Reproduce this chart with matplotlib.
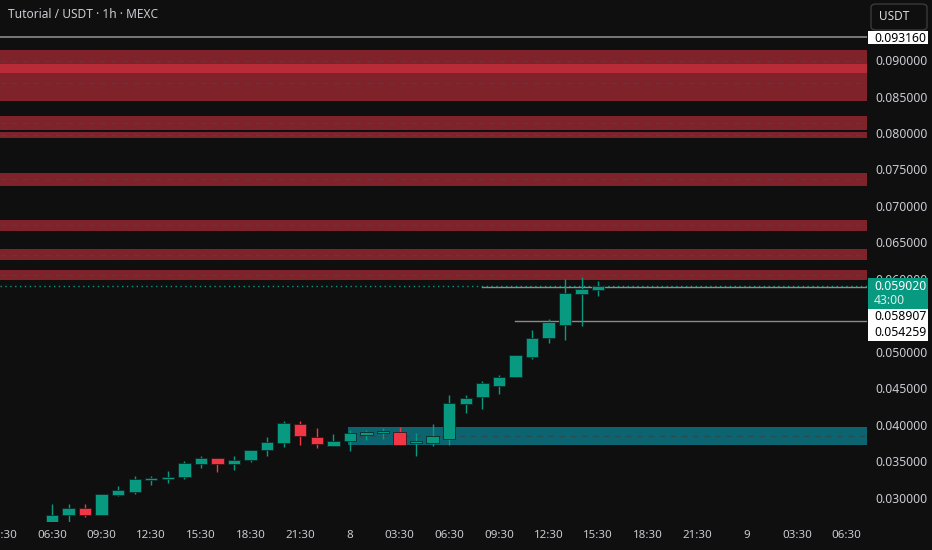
import matplotlib.pyplot as plt
from matplotlib.patches import Rectangle, FancyBboxPatch

plt.rcParams['font.family'] = ['Noto Sans', 'DejaVu Sans']

# ---- data ----
# hourly candles, first one at 06:30 on day 7
opens = [0.02671, 0.02767, 0.02863, 0.02767, 0.03041, 0.03082, 0.03247, 0.03260, 0.03288, 0.03466,
         0.03548, 0.03466, 0.03521, 0.03658, 0.03753, 0.04014, 0.03836, 0.03712, 0.03781, 0.03863,
         0.03890, 0.03904, 0.03753, 0.03753, 0.03808, 0.04288, 0.04384, 0.04534, 0.04658, 0.04932,
         0.05192, 0.05370, 0.05795, 0.05849]
highs = [0.02918, 0.02918, 0.02918, 0.03055, 0.03164, 0.03301, 0.03301, 0.03370, 0.03507, 0.03575,
         0.03548, 0.03575, 0.03658, 0.03836, 0.04055, 0.04055, 0.03959, 0.03877, 0.03932, 0.03932,
         0.03959, 0.03973, 0.03890, 0.04014, 0.04411, 0.04411, 0.04603, 0.04685, 0.04959, 0.05301,
         0.05452, 0.06000, 0.06027, 0.05973]
lows = [0.02668, 0.02671, 0.02740, 0.02767, 0.03027, 0.03055, 0.03178, 0.03205, 0.03260, 0.03411,
        0.03356, 0.03384, 0.03493, 0.03575, 0.03699, 0.03726, 0.03685, 0.03712, 0.03644, 0.03795,
        0.03808, 0.03726, 0.03575, 0.03712, 0.03726, 0.04164, 0.04219, 0.04425, 0.04658, 0.04904,
        0.05123, 0.05164, 0.05356, 0.05767]
closes = [0.02767, 0.02863, 0.02767, 0.03055, 0.03110, 0.03260, 0.03274, 0.03288, 0.03479, 0.03548,
          0.03466, 0.03521, 0.03658, 0.03767, 0.04027, 0.03849, 0.03740, 0.03781, 0.03890, 0.03904,
          0.03918, 0.03726, 0.03781, 0.03849, 0.04301, 0.04370, 0.04575, 0.04658, 0.04959, 0.05192,
          0.05411, 0.05808, 0.05863, 0.05902]

# time axis labels (hour offset from first candle)
tick_hours = [-3, 0, 3, 6, 9, 12, 15, 18, 21, 24, 27, 30, 33, 36, 39, 42, 45, 48]
tick_labels = ['03:30', '06:30', '09:30', '12:30', '15:30', '18:30', '21:30', '8', '03:30',
               '06:30', '09:30', '12:30', '15:30', '18:30', '21:30', '9', '03:30', '06:30']

# 0.055 is hidden behind the level labels in the screenshot
price_ticks = [0.030, 0.035, 0.040, 0.045, 0.050, 0.060, 0.065, 0.070, 0.075, 0.080, 0.085, 0.090]

# supply zones (bottom, top)
red_zones = [(0.08822, 0.09137), (0.08438, 0.08945), (0.08041, 0.08233), (0.07932, 0.08014),
             (0.07274, 0.07452), (0.06658, 0.06808), (0.06260, 0.06411), (0.05986, 0.06123)]
# demand zone (start candle, bottom, top)
teal_zone = (17.9, 0.03726, 0.03973)

last_price = 0.05902
high_line = 0.09316
level_lines = [(26, 0.058907), (28, 0.054259)]

# ---- colours ----
bg = '#0f0f0f'
up = '#089981'
down = '#f23645'
txt = '#c9cbd1'

fig = plt.figure(figsize=(9.32, 5.5), dpi=100, facecolor=bg)
ax = fig.add_axes([0, 28 / 550, 867 / 932, 522 / 550])
ax.set_facecolor(bg)
ax.set_xlim(-3.14, 49.24)
ax.set_ylim(0.02671, 0.09822)
for s in ax.spines.values():
    s.set_visible(False)

# zones
for lo, hi in red_zones:
    ax.axhspan(lo, hi, color=down, alpha=0.5, lw=0, zorder=1)
    ax.axhline((lo + hi) / 2, color='#5c3a40', lw=1, ls=(0, (4, 4)), zorder=1.5)

x0, lo, hi = teal_zone
ax.add_patch(Rectangle((x0, lo), 60, hi - lo, color='#0b6470', lw=0, zorder=1))
ax.plot([x0, 60], [(lo + hi) / 2] * 2, color='#2b4d52', lw=1, ls=(0, (4, 4)), zorder=1.5)

# horizontal lines
ax.axhline(high_line, color='#8a8a8a', lw=1.2, zorder=2)
ax.axhline(last_price, color=up, lw=1, ls=(0, (1, 2.5)), zorder=2)
for start, lvl in level_lines:
    ax.plot([start, 60], [lvl, lvl], color='#8a8a8a', lw=1, zorder=2)

# candles
for i, (o, h, l, c) in enumerate(zip(opens, highs, lows, closes)):
    col = up if c >= o else down
    ax.vlines(i, l, h, color=col, lw=1, zorder=3)
    ax.bar(i, max(abs(c - o), 0.00008), bottom=min(o, c), width=0.75,
           color=col, edgecolor='#0d2a26' if col == up else '#3a1418', lw=0.6, zorder=4)

# axes ticks
ax.set_xticks(tick_hours)
ax.set_xticklabels(tick_labels)
ax.yaxis.tick_right()
ax.set_yticks(price_ticks)
ax.set_yticklabels(['%.6f' % p for p in price_ticks])
ax.tick_params(axis='both', length=0, colors=txt)
ax.tick_params(axis='x', pad=6, labelsize=8.3)
ax.tick_params(axis='y', pad=6, labelsize=8.8)


def fx(px):
    return px / 932


def fy(py):
    return 1 - py / 550


# title
fig.text(fx(8), fy(15), 'Tutorial / USDT · 1h · MEXC', color=txt, fontsize=8.6, va='center')

# USDT button
fig.patches.append(FancyBboxPatch((fx(871), fy(30)), fx(56), 26 / 550,
                                  boxstyle='round,pad=0,rounding_size=0.006',
                                  transform=fig.transFigure, facecolor=bg,
                                  edgecolor='#3a3a3a', lw=1))
fig.text(fx(879), fy(17), 'USDT', color='#d8dae0', fontsize=8.5, va='center')

# price labels
fig.patches.append(Rectangle((fx(868), fy(44)), fx(60), 13 / 550, transform=fig.transFigure,
                             facecolor='white', lw=0, zorder=5))
fig.text(fx(874), fy(38), '%.6f' % high_line, color='black', fontsize=8.8, va='center', zorder=6)

fig.patches.append(Rectangle((fx(868), fy(309)), fx(60), 31 / 550, transform=fig.transFigure,
                             facecolor=up, lw=0, zorder=5))
fig.text(fx(874), fy(286), '%.6f' % last_price, color='white', fontsize=8.8, va='center',
         weight='semibold', zorder=6)
fig.text(fx(874), fy(300), '43:00', color='#d9efe9', fontsize=8.8, va='center', zorder=6)

fig.patches.append(Rectangle((fx(868), fy(341)), fx(60), 32 / 550, transform=fig.transFigure,
                             facecolor='white', lw=0, zorder=5))
fig.text(fx(874), fy(316), '%.6f' % level_lines[0][1], color='black', fontsize=8.8, va='center', zorder=6)
fig.text(fx(874), fy(333), '%.6f' % level_lines[1][1], color='black', fontsize=8.8, va='center', zorder=6)

fig.savefig('out.png', dpi=100, facecolor=bg)
